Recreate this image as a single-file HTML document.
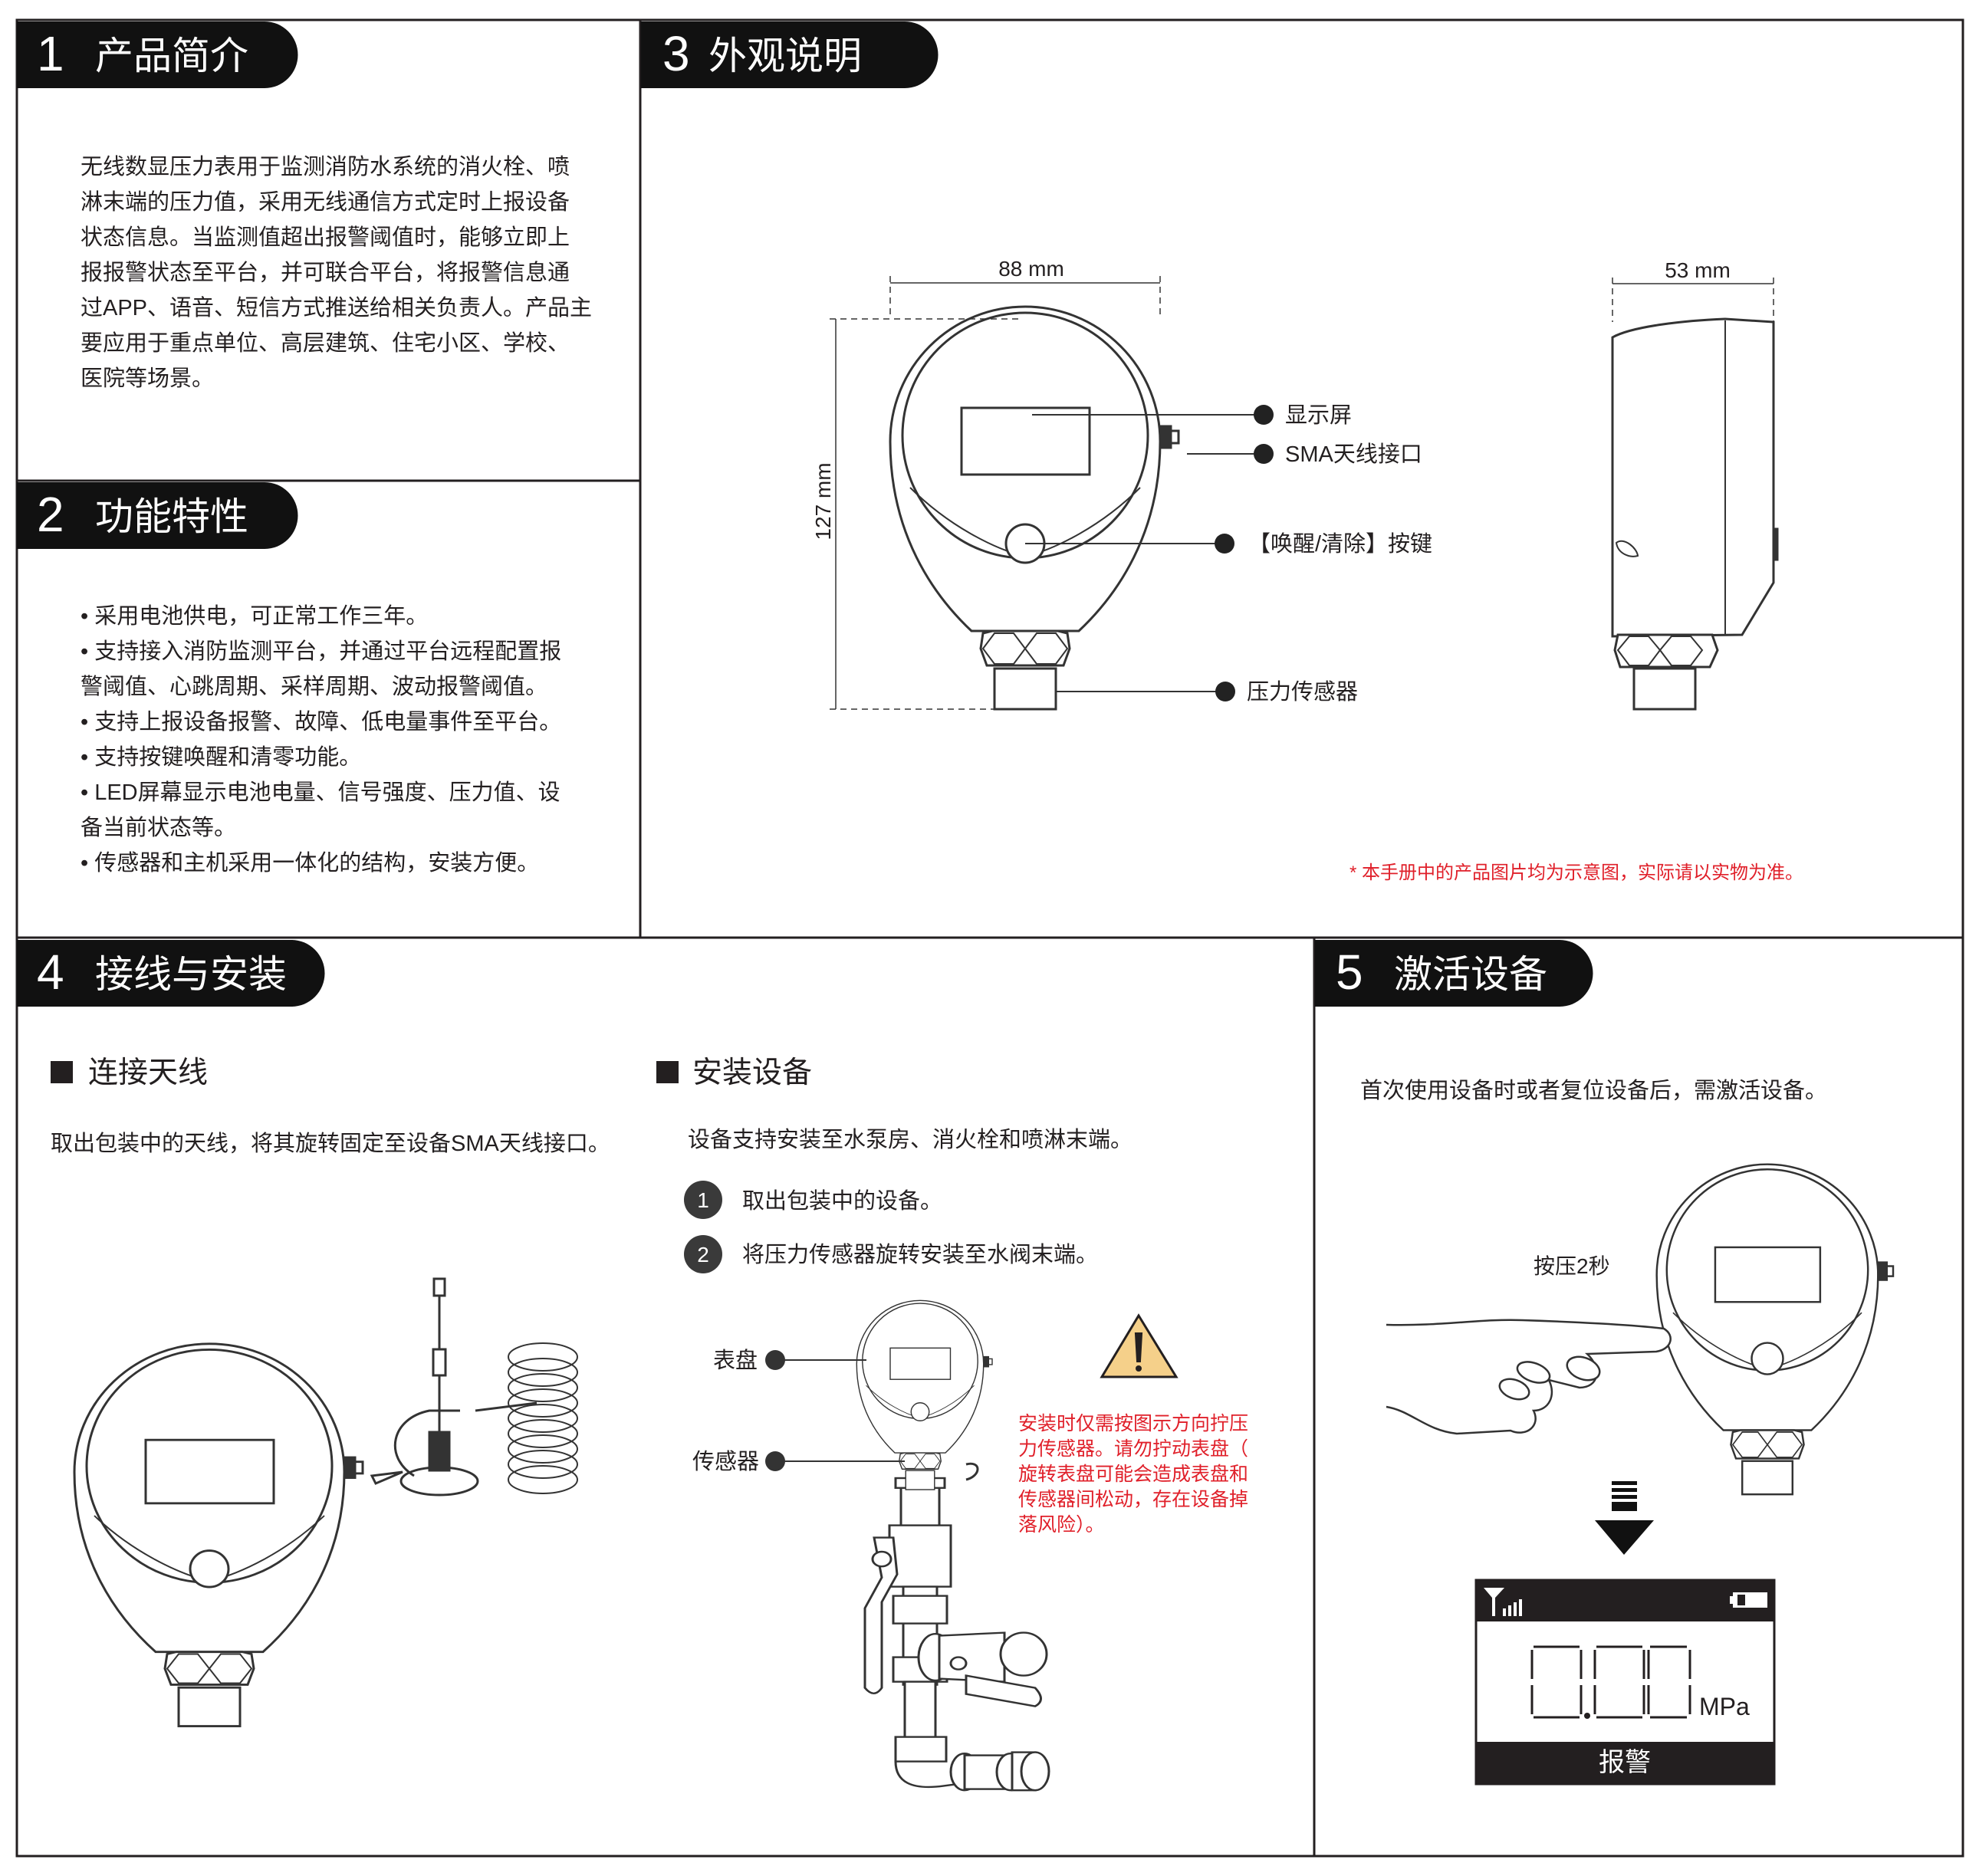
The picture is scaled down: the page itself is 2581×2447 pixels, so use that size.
<!DOCTYPE html>
<html><head><meta charset="utf-8"><style>
html,body{margin:0;padding:0;background:#fff}
svg{display:block}
text{font-family:"Liberation Sans","Noto Sans CJK SC",sans-serif;fill:#231f20}
</style></head><body>
<svg width="2581" height="2447" viewBox="0 0 2581 2447" xmlns="http://www.w3.org/2000/svg">
<defs>
<g id="dev" fill="#fff" stroke="#333" stroke-width="3">
  <path d="M-70 247 C-120 200,-176 120,-176 0 A176 176 0 1 1 176 0 C176 120,120 200,70 247 Z"/>
  <circle cx="0" cy="-8" r="160" fill="none"/>
  <path d="M-150 60 C-100 110,-40 140,0 150 C40 140,100 110,150 60" fill="none" stroke-width="2"/>
  <rect x="-83" y="-44" width="167" height="87"/>
  <circle cx="0" cy="133" r="25"/>
  <path d="M-55 250 L-43 247 L43 247 L55 250 L58 270 L50 292 L-50 292 L-58 270 Z"/>
  <path d="M-55 270 L-40 250 L-15 250 L0 270 L-15 290 L-40 290 Z M0 270 L15 250 L40 250 L55 270 L40 290 L15 290 Z" fill="none" stroke-width="2"/>
  <rect x="-40" y="296" width="80" height="53"/>
  <rect x="176" y="-20" width="14" height="28" fill="#333"/>
  <rect x="190" y="-14" width="10" height="16"/>
</g>
</defs>

<g fill="none" stroke="#231f20" stroke-width="3">
<rect x="22" y="26" width="2538" height="2395"/>
<line x1="835" y1="26" x2="835" y2="1223"/>
<line x1="22" y1="627" x2="835" y2="627"/>
<line x1="22" y1="1223" x2="2560" y2="1223"/>
<line x1="1714" y1="1223" x2="1714" y2="2421"/>
</g>

<g fill="#111">
<path d="M22 28 H345 A43 43 0 0 1 345 115 H22 Z"/>
<path d="M836 28 H1180 A43 43 0 0 1 1180 115 H836 Z"/>
<path d="M22 629 H345 A43 43 0 0 1 345 716 H22 Z"/>
<path d="M22 1226 H380 A43 43 0 0 1 380 1313 H22 Z"/>
<path d="M1715 1226 H2034 A43 43 0 0 1 2034 1313 H1715 Z"/>
</g>
<g font-size="50">
<text x="48" y="92" font-size="64" style="fill:#fff">1</text><text x="124" y="90" style="fill:#fff">产品简介</text>
<text x="864" y="92" font-size="64" style="fill:#fff">3</text><text x="924" y="90" style="fill:#fff">外观说明</text>
<text x="48" y="693" font-size="64" style="fill:#fff">2</text><text x="124" y="691" style="fill:#fff">功能特性</text>
<text x="48" y="1290" font-size="64" style="fill:#fff">4</text><text x="124" y="1288" style="fill:#fff">接线与安装</text>
<text x="1742" y="1290" font-size="64" style="fill:#fff">5</text><text x="1818" y="1288" style="fill:#fff">激活设备</text>
</g>

<g font-size="29">
<text x="105" y="227">无线数显压力表用于监测消防水系统的消火栓、喷</text>
<text x="105" y="273">淋末端的压力值，采用无线通信方式定时上报设备</text>
<text x="105" y="319">状态信息。当监测值超出报警阈值时，能够立即上</text>
<text x="105" y="365">报报警状态至平台，并可联合平台，将报警信息通</text>
<text x="105" y="411">过APP、语音、短信方式推送给相关负责人。产品主</text>
<text x="105" y="457">要应用于重点单位、高层建筑、住宅小区、学校、</text>
<text x="105" y="503">医院等场景。</text>
</g>
<g font-size="29">
<text x="105" y="813">•  采用电池供电，可正常工作三年。</text>
<text x="105" y="859">•  支持接入消防监测平台，并通过平台远程配置报</text>
<text x="105" y="905">警阈值、心跳周期、采样周期、波动报警阈值。</text>
<text x="105" y="951">•  支持上报设备报警、故障、低电量事件至平台。</text>
<text x="105" y="997">•  支持按键唤醒和清零功能。</text>
<text x="105" y="1043">•  LED屏幕显示电池电量、信号强度、压力值、设</text>
<text x="105" y="1089">备当前状态等。</text>
<text x="105" y="1135">•  传感器和主机采用一体化的结构，安装方便。</text>
</g>

<use href="#dev" transform="translate(1337,576)"/>
<g stroke="#333" stroke-width="1.5" fill="none">
<line x1="1161" y1="369" x2="1513" y2="369"/>
<line x1="1161" y1="360" x2="1161" y2="416" stroke-dasharray="8,6"/>
<line x1="1513" y1="360" x2="1513" y2="416" stroke-dasharray="8,6"/>
<line x1="1090" y1="416" x2="1090" y2="925"/>
<line x1="1082" y1="416" x2="1330" y2="416" stroke-dasharray="8,6"/>
<line x1="1082" y1="925" x2="1330" y2="925" stroke-dasharray="8,6"/>
<line x1="2103" y1="370" x2="2313" y2="370"/>
<line x1="2103" y1="362" x2="2103" y2="420" stroke-dasharray="8,6"/>
<line x1="2313" y1="362" x2="2313" y2="420" stroke-dasharray="8,6"/>
</g>
<text x="1345" y="360" font-size="28" text-anchor="middle">88 mm</text>
<text x="2214" y="362" font-size="28" text-anchor="middle">53 mm</text>
<text transform="translate(1083,654) rotate(-90)" font-size="28" text-anchor="middle">127 mm</text>
<g stroke="#333" stroke-width="2">
<line x1="1346" y1="541" x2="1648" y2="541"/>
<line x1="1548" y1="592" x2="1648" y2="592"/>
<line x1="1337" y1="709" x2="1597" y2="709"/>
<line x1="1376" y1="902" x2="1598" y2="902"/>
</g>
<g fill="#222">
<circle cx="1648" cy="541" r="13"/><circle cx="1648" cy="592" r="13"/>
<circle cx="1597" cy="709" r="13"/><circle cx="1598" cy="902" r="13"/>
</g>
<g font-size="29">
<text x="1676" y="551">显示屏</text>
<text x="1676" y="602">SMA天线接口</text>
<text x="1628" y="719">【唤醒/清除】按键</text>
<text x="1626" y="912">压力传感器</text>
</g>
<g fill="#fff" stroke="#333" stroke-width="3">
<path d="M2103 830 V440 C2130 425,2200 418,2250 416 L2313 420 V760 L2272 828 Z"/>
<line x1="2250" y1="418" x2="2250" y2="828" stroke-width="2"/>
<path d="M2108 708 C2118 700,2135 715,2136 725 C2125 728,2110 722,2108 708Z" stroke-width="2"/>
<rect x="2313" y="690" width="5" height="40" fill="#333"/>
<path d="M2110 828 H2233 L2240 848 L2230 870 H2113 L2106 848 Z"/>
<path d="M2110 848 L2125 830 H2150 L2165 848 L2150 868 H2125 Z M2165 848 L2180 830 H2205 L2220 848 L2205 868 H2180 Z" fill="none" stroke-width="2"/>
<rect x="2131" y="872" width="80" height="53"/>
</g>
<text x="1760" y="1146" font-size="24" style="fill:#e0202a">* 本手册中的产品图片均为示意图，实际请以实物为准。</text>

<rect x="66" y="1384" width="29" height="29" fill="#231f20"/>
<text x="115" y="1412" font-size="39">连接天线</text>
<text x="66" y="1501" font-size="29">取出包装中的天线，将其旋转固定至设备SMA天线接口。</text>
<rect x="856" y="1384" width="29" height="29" fill="#231f20"/>
<text x="903" y="1412" font-size="39">安装设备</text>
<text x="897" y="1496" font-size="29">设备支持安装至水泵房、消火栓和喷淋末端。</text>
<circle cx="917" cy="1565" r="25" fill="#3a3a3a"/><text x="917" y="1575" font-size="28" text-anchor="middle" style="fill:#fff">1</text>
<circle cx="917" cy="1636" r="25" fill="#3a3a3a"/><text x="917" y="1646" font-size="28" text-anchor="middle" style="fill:#fff">2</text>
<text x="968" y="1576" font-size="29">取出包装中的设备。</text>
<text x="968" y="1646" font-size="29">将压力传感器旋转安装至水阀末端。</text>

<use href="#dev" transform="translate(273,1920) scale(1.0,0.95)"/>
<g stroke="#333" stroke-width="3" fill="#fff">
<line x1="573" y1="1668" x2="573" y2="1880"/>
<rect x="566" y="1668" width="14" height="22"/>
<rect x="565" y="1760" width="16" height="34"/>
<ellipse cx="573" cy="1932" rx="50" ry="18"/>
<rect x="560" y="1868" width="26" height="50" fill="#333"/>
<path d="M540 1925 C500 1900,510 1850,560 1840 L600 1840" fill="none"/>
<path d="M525 1920 L490 1935 L485 1925 Z"/>
<path d="M620 1840 L700 1830" fill="none"/>
<g fill="none" stroke-width="2">
<ellipse cx="708" cy="1770" rx="45" ry="18"/><ellipse cx="708" cy="1790" rx="45" ry="18"/>
<ellipse cx="708" cy="1810" rx="45" ry="18"/><ellipse cx="708" cy="1830" rx="45" ry="18"/>
<ellipse cx="708" cy="1850" rx="45" ry="18"/><ellipse cx="708" cy="1870" rx="45" ry="18"/>
<ellipse cx="708" cy="1890" rx="45" ry="18"/><ellipse cx="708" cy="1910" rx="45" ry="18"/>
<ellipse cx="708" cy="1930" rx="45" ry="18"/>
</g>
</g>

<g transform="translate(0,1928) scale(1,0.8) translate(0,-1958)">
<g fill="#fff" stroke="#333" stroke-width="3">
<rect x="1175" y="1970" width="50" height="120"/>
<rect x="1168" y="1958" width="64" height="16"/>
<rect x="1160" y="2035" width="80" height="100"/>
<rect x="1178" y="2135" width="44" height="160"/>
<rect x="1165" y="2150" width="70" height="45"/>
<rect x="1165" y="2250" width="70" height="40"/>
<rect x="1180" y="2290" width="40" height="100"/>
<rect x="1168" y="2380" width="66" height="40"/>
<path d="M1168 2420 Q1168 2470,1230 2460 L1260 2455" fill="none"/>
<ellipse cx="1258" cy="2437" rx="18" ry="30"/>
<rect x="1258" y="2410" width="60" height="55"/>
<ellipse cx="1318" cy="2437" rx="18" ry="30"/>
<rect x="1320" y="2405" width="30" height="62"/>
<ellipse cx="1350" cy="2436" rx="18" ry="31"/>
<ellipse cx="1220" cy="2250" rx="22" ry="38"/>
<path d="M1225 2215 L1310 2210 L1310 2290 L1225 2285 Z"/>
<ellipse cx="1335" cy="2245" rx="30" ry="35"/>
<path d="M1260 2280 L1350 2300 Q1365 2320,1350 2330 L1260 2310 Z"/>
<circle cx="1250" cy="2260" r="10"/>
<path d="M1140 2055 L1150 2120 L1128 2170 L1128 2300 Q1140 2318,1150 2300 L1150 2160 L1170 2115 L1165 2055 Z"/>
<circle cx="1150" cy="2090" r="12"/>
</g>
</g>
<use href="#dev" transform="translate(1200,1779) scale(0.47)"/>
<path d="M1260 1910 C1280 1905,1280 1925,1260 1930" fill="none" stroke="#333" stroke-width="3"/>
<g stroke="#333" stroke-width="2"><line x1="1011" y1="1774" x2="1130" y2="1774"/><line x1="1011" y1="1906" x2="1180" y2="1906"/></g>
<circle cx="1011" cy="1774" r="13" fill="#333"/><circle cx="1011" cy="1906" r="13" fill="#333"/>
<text x="930" y="1784" font-size="29">表盘</text>
<text x="903" y="1916" font-size="29">传感器</text>
<path d="M1485 1716 L1534 1796 L1437 1796 Z" fill="#f5d08a" stroke="#231f20" stroke-width="3"/>
<path d="M1482 1740 L1488 1740 L1486 1775 L1484 1775 Z" fill="#231f20" stroke="#231f20" stroke-width="4"/>
<circle cx="1485" cy="1785" r="4" fill="#231f20"/>
<g font-size="25">
<text x="1328" y="1865" style="fill:#e0202a">安装时仅需按图示方向拧压</text>
<text x="1328" y="1898" style="fill:#e0202a">力传感器。请勿拧动表盘（</text>
<text x="1328" y="1931" style="fill:#e0202a">旋转表盘可能会造成表盘和</text>
<text x="1328" y="1964" style="fill:#e0202a">传感器间松动，存在设备掉</text>
<text x="1328" y="1997" style="fill:#e0202a">落风险）。</text>
</g>

<text x="1774" y="1432" font-size="29">首次使用设备时或者复位设备后，需激活设备。</text>
<text x="2000" y="1661" font-size="28">按压2秒</text>
<use href="#dev" transform="translate(2305,1663) scale(0.82)"/>
<g fill="#fff" stroke="#333" stroke-width="2.5">
<path d="M1808 1728 C1880 1730,1930 1720,1985 1722 C2050 1724,2130 1728,2170 1733 C2185 1742,2180 1760,2160 1763 L2070 1766 C2090 1785,2085 1810,2060 1810 L2020 1800 C2030 1820,2020 1840,2000 1840 C2010 1860,1990 1875,1970 1866 L1900 1870 C1860 1866,1840 1840,1808 1835"/>
<ellipse cx="2065" cy="1785" rx="22" ry="14" transform="rotate(20 2065 1785)"/>
<ellipse cx="2000" cy="1790" rx="22" ry="12" transform="rotate(20 2000 1790)"/>
<ellipse cx="1975" cy="1812" rx="20" ry="12" transform="rotate(20 1975 1812)"/>
</g>
<g fill="#111">
<rect x="2102" y="1932" width="33" height="5"/><rect x="2102" y="1941" width="33" height="5"/>
<rect x="2102" y="1950" width="33" height="5"/><rect x="2102" y="1959" width="33" height="12"/>
<path d="M2080 1983 H2157 L2118 2028 Z"/>
</g>
<rect x="1925" y="2061" width="389" height="266" fill="#fff" stroke="#231f20" stroke-width="3"/>
<rect x="1925" y="2061" width="389" height="54" fill="#231f20"/>
<rect x="1925" y="2272" width="389" height="55" fill="#231f20"/>
<path d="M1935 2071 H1962 L1950 2084 V2108 H1946 V2084 Z" fill="#fff"/>
<g fill="#fff"><rect x="1960" y="2098" width="4" height="10"/><rect x="1967" y="2094" width="4" height="14"/><rect x="1974" y="2090" width="4" height="18"/><rect x="1981" y="2086" width="4" height="22"/></g>
<rect x="2260" y="2077" width="45" height="20" fill="#fff"/><rect x="2256" y="2082" width="5" height="10" fill="#fff"/><rect x="2266" y="2080" width="10" height="14" fill="#231f20"/>
<g fill="none" stroke="#231f20" stroke-width="3">
<path d="M2000 2148 H2060 M2000 2240 H2060 M1998 2152 V2190 M1998 2198 V2236 M2062 2152 V2190 M2062 2198 V2236"/>
<path d="M2082 2148 H2142 M2082 2240 H2142 M2080 2152 V2190 M2080 2198 V2236 M2144 2152 V2190 M2144 2198 V2236"/>
<path d="M2152 2148 H2200 M2152 2240 H2200 M2150 2152 V2190 M2150 2198 V2236 M2204 2152 V2190 M2204 2198 V2236"/>
</g>
<circle cx="2070" cy="2238" r="4" fill="#231f20"/>
<text x="2216" y="2237" font-size="32">MPa</text>
<text x="2119" y="2310" font-size="34" text-anchor="middle" style="fill:#fff">报警</text>
</svg>
</body></html>
